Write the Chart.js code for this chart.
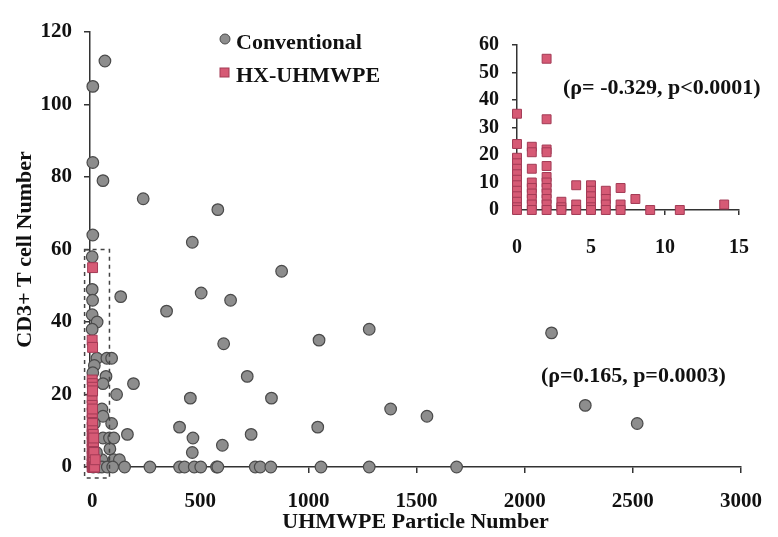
<!DOCTYPE html>
<html>
<head>
<meta charset="utf-8">
<script src="https://cdn.jsdelivr.net/npm/chart.js@4.4.0/dist/chart.umd.min.js"></script>
<style>
    body { margin: 0; background: #fff; }
    #wrap { position: relative; width: 778px; height: 537px; }
    #mainChart { position: absolute; left: 0; top: 0; }
    #insetChart { position: absolute; left: 460px; top: 20px; pointer-events: none; }
</style>
</head>
<body>
<div id="wrap">
    <canvas id="mainChart" width="778" height="537"></canvas>
    <canvas id="insetChart" width="310" height="245"></canvas>
</div>
<script>
// Conventional UHMWPE: particle number vs CD3+ T cell number
const convParticles = [59, 3, 3, 50, 236, 581, 3, 463, 0, 876, 0, 2, 132, 504, 640, 344, 0, 23, 0, 1281,
    2124, 608, 1049, 22, 68, 90, 10, 3, 64, 717, 50, 191, 113, 454, 829, 45, 1380, 50, 1548, 2280,
    90, 10, 404, 1043, 2520, 163, 50, 80, 100, 735, 466, 602, 82, 463, 45, 100, 126, 20,
    5, 30, 45, 70, 95, 150, 267, 404, 427, 472, 502, 575, 581, 754, 777, 826, 1058, 1281, 1685];
const convCells = [112, 105, 84, 79, 74, 71, 64, 62, 58, 54, 49, 46, 47, 48, 46, 43, 42, 40, 38, 38,
    37, 34, 35, 30, 30, 30, 28, 26, 25, 25, 23, 23, 20, 19, 19, 16, 16, 14, 14, 17,
    12, 12, 11, 11, 12, 9, 8, 8, 8, 9, 8, 6, 5, 4, 2, 2, 2, 4,
    0, 0, 0, 0, 0, 0, 0, 0, 0, 0, 0, 0, 0, 0, 0, 0, 0, 0, 0];

// HX-UHMWPE
const hxParticles = [0, 0, 0, 0, 0, 0, 0, 0, 0, 0, 0, 0, 0,
    1, 1, 1, 1, 1, 1, 1, 1, 1,
    2, 2, 2, 2, 2, 2, 2, 2, 2, 2, 2, 2,
    3, 3, 3, 4, 4, 4, 5, 5, 5, 5, 5, 5, 6, 6, 6, 6, 7, 7, 7, 8, 9, 11, 14];
const hxCells = [35, 24, 19, 17, 15, 13, 11, 9, 7, 5, 3, 1, 0,
    23, 21, 15, 10, 8, 6, 4, 2, 0,
    55, 33, 22, 21, 16, 12, 10, 8, 6, 4, 2, 0,
    3, 1, 0, 9, 2, 0, 9, 7, 5, 3, 1, 0, 7, 4, 2, 0, 8, 2, 0, 4, 0, 0, 2];

const mainXTicks = [0, 500, 1000, 1500, 2000, 2500, 3000];
const mainYTicks = [0, 20, 40, 60, 80, 100, 120];
const insetXTicks = [0, 5, 10, 15];
const insetYTicks = [0, 10, 20, 30, 40, 50, 60];

// dashed box around the low particle region
const boxX = [-35, 80];
const boxY = [-3, 60];

const FONT = "'Liberation Serif', 'Times New Roman', serif";
const INK = '#111';

function toPoints(xs, ys) {
    return xs.map((x, i) => ({ x: x, y: ys[i] }));
}

const hxStyle = {
    pointStyle: 'rect',
    pointRadius: 7,
    pointBackgroundColor: '#d65a75',
    pointBorderColor: '#a33a55',
    pointBorderWidth: 1
};

const convStyle = {
    pointStyle: 'circle',
    pointRadius: 5.8,
    pointBackgroundColor: '#8d8d8d',
    pointBorderColor: '#4a4a4a',
    pointBorderWidth: 1.2
};

// Draws the dashed box, the legend and the correlation notes
const decorPlugin = {
    id: 'decor',
    afterDatasetsDraw(chart) {
        const ctx = chart.ctx;
        const xs = chart.scales.x, ys = chart.scales.y;
        ctx.save();
        ctx.setLineDash([4, 4]);
        ctx.strokeStyle = '#444';
        ctx.lineWidth = 1.5;
        const x0 = xs.getPixelForValue(boxX[0]), x1 = xs.getPixelForValue(boxX[1]);
        const y0 = ys.getPixelForValue(boxY[1]), y1 = ys.getPixelForValue(boxY[0]);
        ctx.strokeRect(x0, y0, x1 - x0, y1 - y0);
        ctx.restore();
    },
    afterDraw(chart) {
        const ctx = chart.ctx;
        ctx.save();
        // legend
        ctx.fillStyle = convStyle.pointBackgroundColor;
        ctx.strokeStyle = convStyle.pointBorderColor;
        ctx.lineWidth = 1;
        ctx.beginPath();
        ctx.arc(225, 39, 5, 0, Math.PI * 2);
        ctx.fill();
        ctx.stroke();
        ctx.fillStyle = hxStyle.pointBackgroundColor;
        ctx.strokeStyle = hxStyle.pointBorderColor;
        ctx.fillRect(220, 68, 9, 9);
        ctx.strokeRect(220, 68, 9, 9);

        ctx.fillStyle = INK;
        ctx.font = 'bold 22px ' + FONT;
        ctx.textBaseline = 'middle';
        ctx.textAlign = 'left';
        ctx.fillText('Conventional', 236, 43);
        ctx.fillText('HX-UHMWPE', 236, 76);

        // correlation notes
        ctx.fillText('(ρ= -0.329, p<0.0001)', 563, 88);
        ctx.fillText('(ρ=0.165, p=0.0003)', 541, 376);
        ctx.restore();
    }
};

function axisFont(size) {
    return { family: FONT, size: size, weight: 'bold' };
}

const plainLabel = v => String(v);

new Chart(document.getElementById('mainChart'), {
    type: 'scatter',
    data: {
        datasets: [
            Object.assign({ label: 'HX-UHMWPE', data: toPoints(hxParticles, hxCells) }, hxStyle),
            Object.assign({ label: 'Conventional', data: toPoints(convParticles, convCells) }, convStyle)
        ]
    },
    options: {
        responsive: false,
        animation: false,
        devicePixelRatio: 1,
        clip: false,
        layout: { padding: { top: 32, right: 25, left: 0, bottom: 0 } },
        plugins: { legend: { display: false }, tooltip: { enabled: false } },
        scales: {
            x: {
                type: 'linear',
                min: -10,
                max: 3000,
                afterBuildTicks: s => { s.ticks = mainXTicks.map(v => ({ value: v })); },
                afterFit: s => { s.height = 70; },
                grid: { display: true, drawOnChartArea: false, drawTicks: true, tickLength: 6, color: '#333', lineWidth: 1.5 },
                border: { display: true, color: '#333', width: 1.5 },
                ticks: { font: axisFont(21), color: INK, padding: 16, maxRotation: 0, callback: plainLabel },
                title: { display: true, text: 'UHMWPE Particle Number', font: axisFont(22), color: INK, padding: { top: 0, bottom: 1 } }
            },
            y: {
                type: 'linear',
                min: 0,
                max: 120,
                afterBuildTicks: s => { s.ticks = mainYTicks.map(v => ({ value: v })); },
                afterFit: s => { s.width = 90; },
                grid: { display: true, drawOnChartArea: false, drawTicks: true, tickLength: 6, color: '#333', lineWidth: 1.5 },
                border: { display: true, color: '#333', width: 1.5 },
                ticks: { font: axisFont(21), color: INK, padding: 12, callback: plainLabel },
                title: { display: true, text: 'CD3+ T cell Number', font: axisFont(22), color: INK, padding: { top: 12, bottom: 0 } }
            }
        }
    },
    plugins: [decorPlugin]
});

new Chart(document.getElementById('insetChart'), {
    type: 'scatter',
    data: {
        datasets: [
            Object.assign({ label: 'HX-UHMWPE', data: toPoints(hxParticles, hxCells) }, hxStyle, { pointRadius: 6.3 })
        ]
    },
    options: {
        responsive: false,
        animation: false,
        devicePixelRatio: 1,
        clip: false,
        layout: { padding: { top: 14, right: 19, left: 0, bottom: 0 } },
        plugins: { legend: { display: false }, tooltip: { enabled: false } },
        scales: {
            x: {
                type: 'linear',
                min: 0,
                max: 15,
                afterBuildTicks: s => { s.ticks = insetXTicks.map(v => ({ value: v })); },
                afterFit: s => { s.height = 55; },
                grid: { display: true, drawOnChartArea: false, drawTicks: true, tickLength: 5, color: '#333', lineWidth: 1.5 },
                border: { display: true, color: '#333', width: 1.5 },
                ticks: { font: axisFont(20), color: INK, padding: 21, maxRotation: 0, callback: plainLabel }
            },
            y: {
                type: 'linear',
                min: 0,
                max: 60,
                afterBuildTicks: s => { s.ticks = insetYTicks.map(v => ({ value: v })); },
                afterFit: s => { s.width = 57; },
                grid: { display: true, drawOnChartArea: false, drawTicks: true, tickLength: 5, color: '#333', lineWidth: 1.5 },
                border: { display: true, color: '#333', width: 1.5 },
                ticks: { font: axisFont(20), color: INK, padding: 13, callback: plainLabel }
            }
        }
    }
});
</script>
</body>
</html>
